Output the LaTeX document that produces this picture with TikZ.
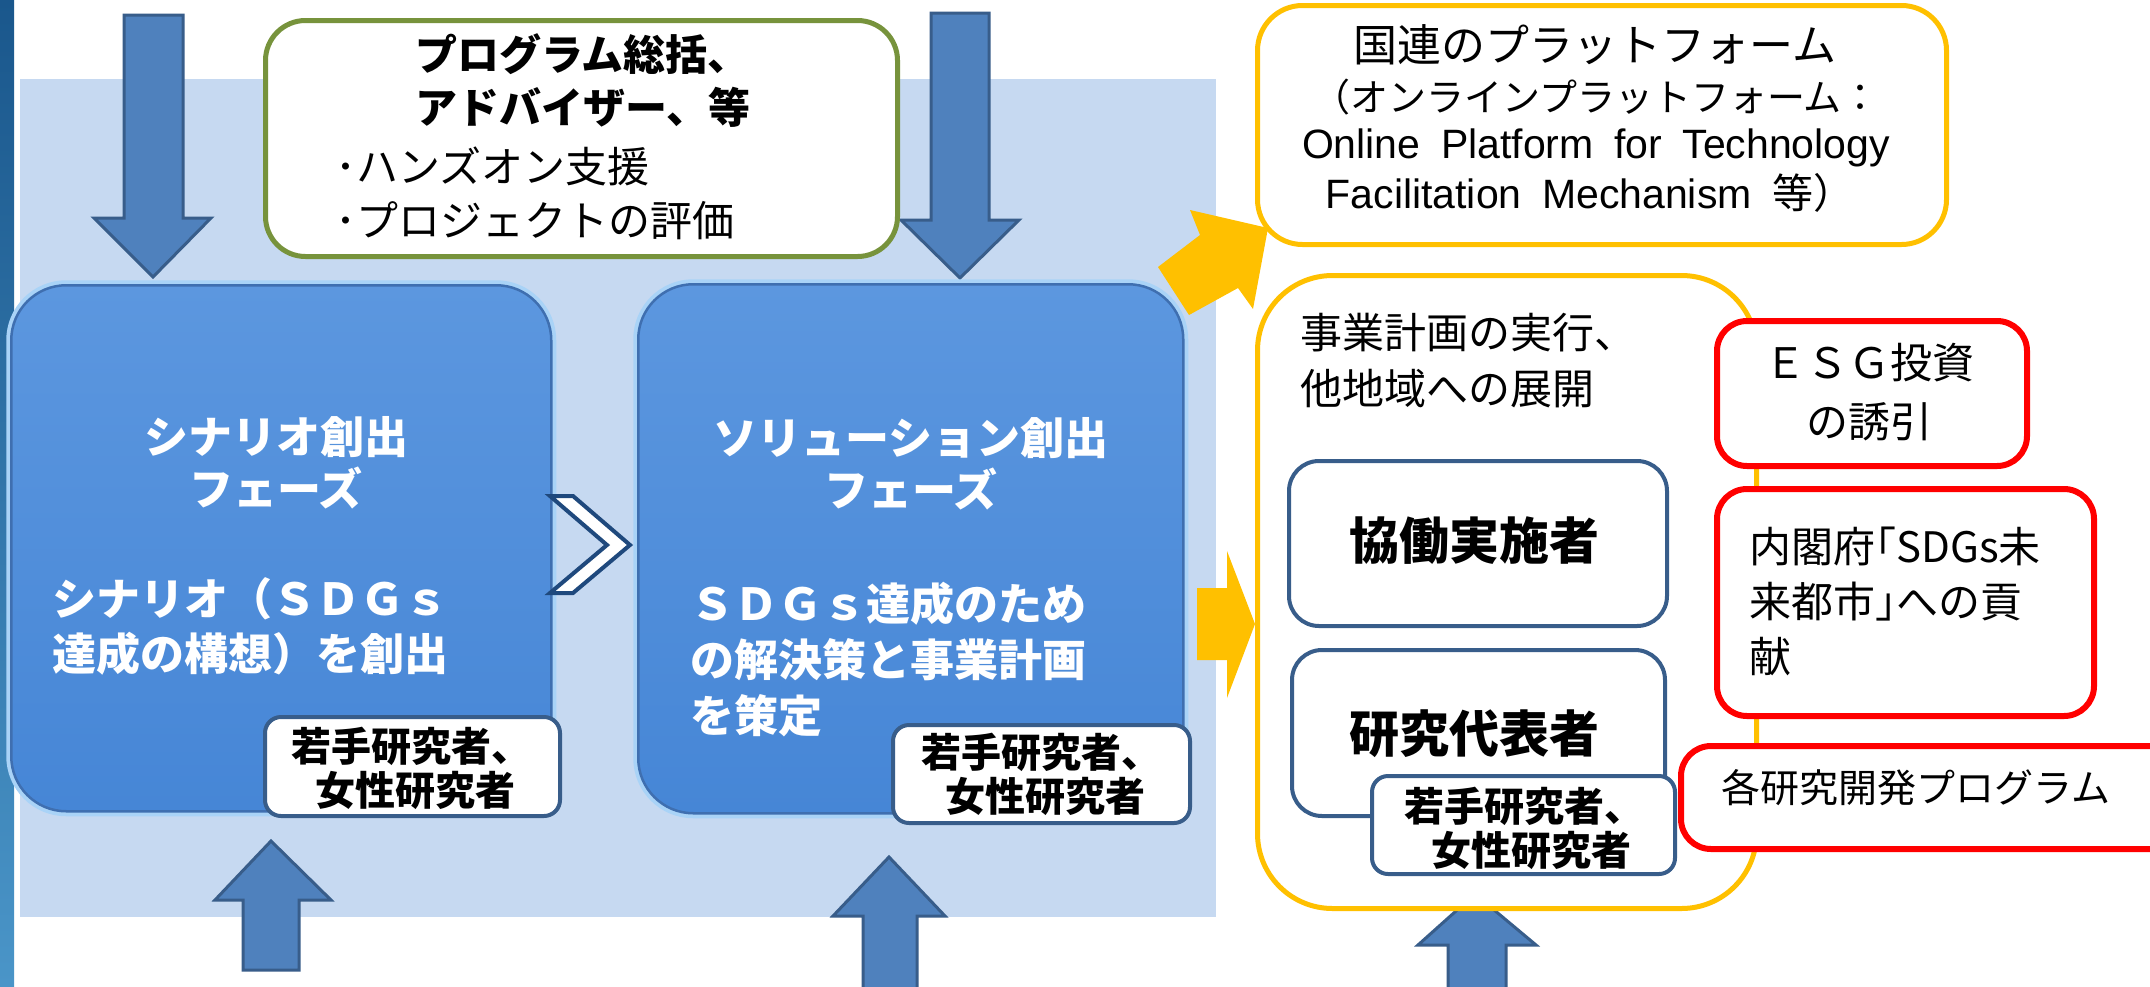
\documentclass[tikz,border=0pt]{standalone}
\usepackage{fontspec}
\setmainfont{Noto Sans CJK JP}
\newfontfamily\lat{Liberation Sans}[WordSpace=1.8]
\newcommand\setfs[2]{\fontsize{#1}{#2}\selectfont}
\definecolor{bgblue}{HTML}{C6D9F1}
\definecolor{arrowfill}{HTML}{4F81BD}
\definecolor{arrowdraw}{HTML}{385D8A}
\definecolor{olivegreen}{HTML}{77933C}
\definecolor{gold}{HTML}{FFC000}
\definecolor{navy}{HTML}{1F497D}
\definecolor{boxtop}{HTML}{5C97DF}
\definecolor{boxbot}{HTML}{4686D6}
\definecolor{boxedge}{HTML}{3F6FB0}
\definecolor{glowblue}{HTML}{A9D3F7}
\definecolor{bartop}{HTML}{1A578C}
\definecolor{barbot}{HTML}{4A95C8}
\definecolor{redline}{HTML}{FF0000}
\tikzset{
  blockarrow/.style={fill=arrowfill, draw=arrowdraw, line width=3pt, line join=miter},
  goldarrow/.style={fill=gold},
  boxbase/.style={rectangle, anchor=north west, inner sep=0pt},
  phase/.style={boxbase, rounded corners=55pt, top color=boxtop, bottom color=boxbot,
     draw=boxedge, line width=2.5pt, preaction={draw=glowblue, line width=10pt}},
  wbox/.style={boxbase, rounded corners=16pt, fill=white, draw=arrowdraw, line width=4pt},
  greenbox/.style={boxbase, rounded corners=40pt, fill=white, draw=olivegreen, line width=5pt},
  goldbox/.style={boxbase, fill=white, draw=gold, line width=5pt},
  redbox/.style={boxbase, rounded corners=30pt, fill=white, draw=redline, line width=6pt},
  txt/.style={inner sep=0pt, text=black},
  wtxt/.style={inner sep=0pt, text=white, font=\bfseries},
}
\begin{document}
\begin{tikzpicture}[x=1pt,y=-1pt]
\useasboundingbox (0,0) rectangle (2150,986);
\clip (0,0) rectangle (2150,986);
\fill[white] (0,0) rectangle (2150,986);
% light blue background panel
\fill[bgblue] (20,79) rectangle (1216,917);
% left bar
\shade[top color=bartop, bottom color=barbot] (0,0) rectangle (14,986);

% down arrows
\draw[blockarrow] (124,15) -- (183,15) -- (183,218) -- (211,218) -- (153,277) -- (94,218) -- (124,218) -- cycle;
\draw[blockarrow] (931,13) -- (989,13) -- (989,220) -- (1019,220) -- (960,278) -- (901,220) -- (931,220) -- cycle;
% up arrows
\draw[blockarrow] (243,970) -- (243,900) -- (215,900) -- (271,841) -- (331,900) -- (299,900) -- (299,970) -- cycle;
\draw[blockarrow] (863,995) -- (863,916) -- (833,916) -- (889,857) -- (945,916) -- (917,916) -- (917,995) -- cycle;
\draw[blockarrow] (1448,995) -- (1448,945) -- (1418,945) -- (1475,894) -- (1536,945) -- (1506,945) -- (1506,995) -- cycle;

% program supervisor box
\node[greenbox, minimum width=632pt, minimum height=236pt] (gbox) at (263,18) {};
\node[txt, anchor=west, align=left, font=\bfseries\setfs{42}{53}] (gtitle) at (415,81)
  {プログラム総括、\\アドバイザー、等};
\node[txt, anchor=west, align=left, font=\setfs{42}{54}] (gitems) at (335,193)
  {･ハンズオン支援\\･プロジェクトの評価};

% phase boxes
\node[phase, minimum width=540pt, minimum height=526pt] (p1) at (10,284) {};
\node[phase, minimum width=545pt, minimum height=529pt] (p2) at (637,283) {};
\node[wtxt, align=center, font=\bfseries\setfs{44}{52}] (p1title) at (276,463) {シナリオ創出\\フェーズ};
\node[wtxt, anchor=west, align=left, font=\bfseries\setfs{44}{55}] (p1body) at (52,626)
  {シナリオ（ＳＤＧｓ\\達成の構想）を創出};
\node[wtxt, align=center, font=\bfseries\setfs{44}{52}] (p2title) at (911,464) {ソリューション創出\\フェーズ};
\node[wtxt, anchor=west, align=left, font=\bfseries\setfs{44}{56}] (p2body) at (690,660)
  {ＳＤＧｓ達成のため\\の解決策と事業計画\\を策定};

% chevron
\draw[fill=white, draw=navy, line width=4pt, line join=miter] (550,496) -- (573,496) -- (630,545) -- (573,593) -- (550,593) -- (607,545) -- cycle;

% young / female researchers boxes
\node[wbox, minimum width=295pt, minimum height=99pt] (w1) at (263,715) {};
\node[txt, anchor=west, align=left, font=\bfseries\setfs{40}{44}] (w1t) at (291,768)
  {若手研究者、\\\hspace*{24pt}女性研究者};
\node[wbox, minimum width=297pt, minimum height=98pt] (w2) at (891,723) {};
\node[txt, anchor=west, align=left, font=\bfseries\setfs{40}{44}] (w2t) at (921,774)
  {若手研究者、\\\hspace*{24pt}女性研究者};

% yellow arrows
\fill[goldarrow] (1158,267) -- (1200,235) -- (1190,210) -- (1268,228) -- (1253,309) -- (1238,288) -- (1189,315) -- cycle;
\fill[goldarrow] (1197,588) -- (1227,588) -- (1227,551) -- (1255,624) -- (1227,698) -- (1227,660) -- (1197,660) -- cycle;

% UN platform box
\node[goldbox, rounded corners=45pt, minimum width=689pt, minimum height=239pt] (un) at (1255,3) {};
\node[txt, font=\setfs{44}{50}] (un1) at (1595,45) {国連のプラットフォーム};
\node[txt, font=\setfs{38}{44}] (un2) at (1596,97) {（オンラインプラットフォーム：};
\node[txt, font=\lat\setfs{41}{46}] (un3) at (1596,148) {Online Platform for Technology};
\node[txt, font=\setfs{41}{46}] (un4) at (1590,193) {{\lat Facilitation Mechanism }等）};

% implementation box
\node[goldbox, rounded corners=75pt, minimum width=499pt, minimum height=633pt] (impl) at (1255,273) {};
\node[txt, anchor=west, align=left, font=\setfs{42}{56}] (implt) at (1300,361)
  {事業計画の実行、\\他地域への展開};
\node[wbox, rounded corners=30pt, minimum width=378pt, minimum height=165pt] (kyo) at (1287,459) {};
\node[txt, font=\bfseries\setfs{50}{56}] (kyot) at (1474,541) {協働実施者};
\node[wbox, rounded corners=30pt, minimum width=373pt, minimum height=166pt] (ken) at (1290,648) {};
\node[txt, font=\bfseries\setfs{50}{56}] (kent) at (1474,734) {研究代表者};
\node[wbox, minimum width=303pt, minimum height=98pt] (w3) at (1370,774) {};
\node[txt, anchor=west, align=left, font=\bfseries\setfs{40}{44}] (w3t) at (1404,828)
  {若手研究者、\\\hspace*{27pt}女性研究者};

% red boxes
\node[redbox, minimum width=310pt, minimum height=145pt] (esg) at (1714,318) {};
\node[txt, align=center, font=\setfs{42}{59}] (esgt) at (1869,392) {ＥＳＧ投資\\の誘引};
\node[redbox, minimum width=377pt, minimum height=227pt] (cao) at (1714,486) {};
\node[txt, anchor=west, align=left, font=\setfs{42}{55}] (caot) at (1749,601)
  {内閣府｢SDGs未\\来都市｣への貢\\献};
\node[redbox, minimum width=500pt, minimum height=103pt] (prog) at (1678,743) {};
\node[txt, anchor=west, font=\setfs{39}{44}] (progt) at (1721,788) {各研究開発プログラム};
\end{tikzpicture}
\end{document}
